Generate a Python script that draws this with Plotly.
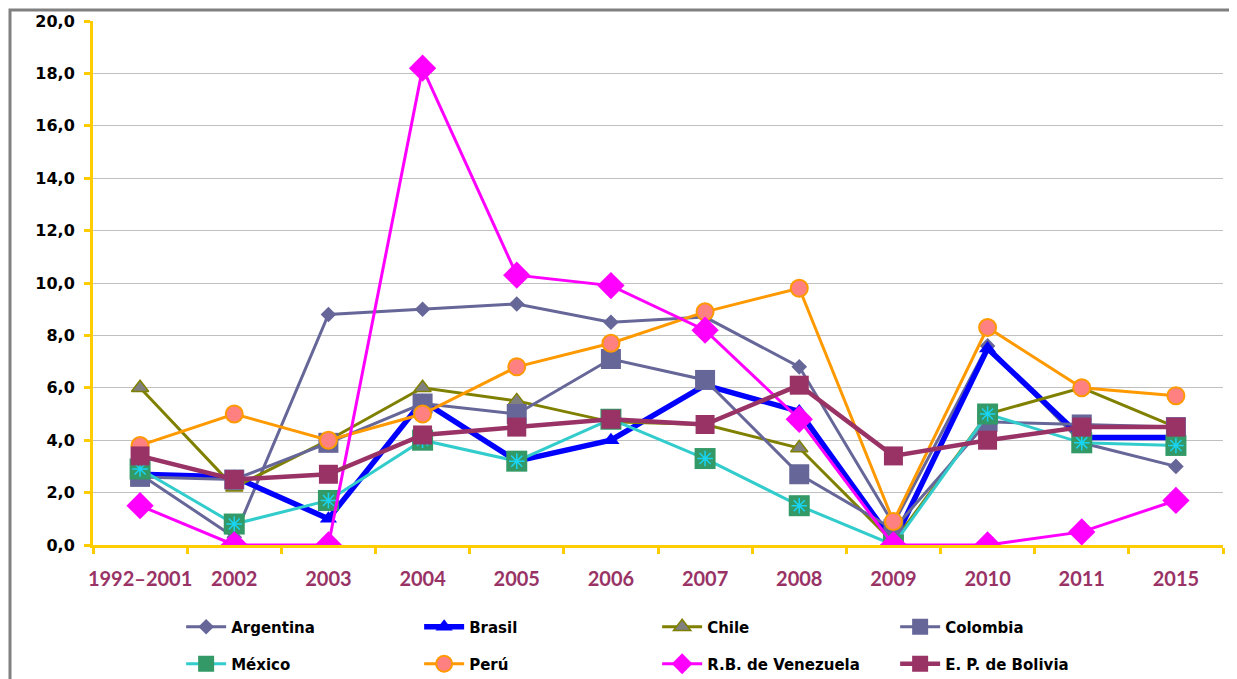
import plotly.graph_objects as go

years = ["1992–2001", "2002", "2003", "2004", "2005", "2006", "2007", "2008", "2009", "2010", "2011", "2015"]

argentina = [2.7, 0.3, 8.8, 9.0, 9.2, 8.5, 8.7, 6.8, 0.8, 7.6, 3.9, 3.0]
brasil = [2.7, 2.6, 1.0, 5.5, 3.2, 4.0, 6.1, 5.1, 0.1, 7.5, 4.1, 4.1]
chile = [6.0, 2.2, 4.0, 6.0, 5.5, 4.7, 4.6, 3.7, 0.1, 5.0, 6.0, 4.5]
colombia = [2.6, 2.5, 3.9, 5.4, 5.0, 7.1, 6.3, 2.7, 0.6, 4.7, 4.6, 4.5]
mexico = [2.9, 0.8, 1.7, 4.0, 3.2, 4.8, 3.3, 1.5, 0.0, 5.0, 3.9, 3.8]
peru = [3.8, 5.0, 4.0, 5.0, 6.8, 7.7, 8.9, 9.8, 0.9, 8.3, 6.0, 5.7]
venezuela = [1.5, 0.0, 0.0, 18.2, 10.3, 9.9, 8.2, 4.8, 0.0, 0.0, 0.5, 1.7]
bolivia = [3.4, 2.5, 2.7, 4.2, 4.5, 4.8, 4.6, 6.1, 3.4, 4.0, 4.5, 4.5]

YELLOW = "#FFCC00"

fig = go.Figure()


def add(name, y, color, width, symbol, size, fill=None, lcolor=None, lw=0, legend="legend"):
    fig.add_trace(go.Scatter(
        x=years, y=y, name=name, mode="lines+markers", legend=legend,
        line=dict(color=color, width=width),
        marker=dict(symbol=symbol, size=size, color=fill or color,
                    line=dict(color=lcolor or color, width=lw)),
    ))


add("Argentina", argentina, "#666699", 3, "diamond", 12)
add("Brasil", brasil, "#0000FF", 5.5, "triangle-up", 15)
add("Chile", chile, "#808000", 3, "triangle-up", 15, fill="#808080", lw=1.5)
add("Colombia", colombia, "#666699", 3, "square", 20)
add("México", mexico, "#33CCCC", 3, "square", 21, fill="#339966", legend="legend2")
# asterisk inside the Mexico markers
fig.add_trace(go.Scatter(
    x=years, y=mexico, mode="markers", showlegend=False, hoverinfo="skip",
    marker=dict(symbol="asterisk-open", size=13, line=dict(color="#33CCCC", width=1.5)),
))
add("Perú", peru, "#FF9900", 3, "circle", 17, fill="#FF8080", lcolor="#FF9900", lw=2, legend="legend2")
add("R.B. de Venezuela", venezuela, "#FF00FF", 3, "diamond", 21, legend="legend2")
add("E. P. de Bolivia", bolivia, "#993366", 4.5, "square", 19, legend="legend2")

leg = dict(orientation="h", xanchor="left", yanchor="middle", x=0.078,
           entrywidth=183, entrywidthmode="pixels", itemwidth=40,
           bgcolor="rgba(0,0,0,0)", borderwidth=0,
           font=dict(family="DejaVu Sans", size=15, color="black", weight="bold"))

# page has an 8px body margin, so plot area lands at x 93..1223, y 21..545
fig.update_layout(
    width=1237, height=679,
    margin=dict(l=85, r=22, t=13, b=142, autoexpand=False),
    paper_bgcolor="white", plot_bgcolor="white",
    separators=",.",
    showlegend=True,
    legend=dict(leg, y=(545 - 627) / 524),
    legend2=dict(leg, y=(545 - 664) / 524),
    xaxis=dict(
        type="category", range=[-0.5, 11.5], tickson="boundaries",
        showline=True, linecolor=YELLOW, linewidth=3, tickangle=0, automargin=False,
        ticks="outside", ticklen=6, tickwidth=3, tickcolor=YELLOW,
        showgrid=False, ticklabelstandoff=14,
        tickfont=dict(family="Lato", size=20, color="#993366", weight="bold"),
    ),
    yaxis=dict(
        range=[0, 20], dtick=2, tickformat=".1f", automargin=False,
        showline=True, linecolor=YELLOW, linewidth=3,
        ticks="outside", ticklen=6, tickwidth=3, tickcolor=YELLOW,
        showgrid=True, gridcolor="#C0C0C0", gridwidth=1, zeroline=False,
        ticklabelstandoff=6,
        tickfont=dict(family="DejaVu Sans", size=16, color="black", weight="bold"),
    ),
    shapes=[dict(type="rect", xref="paper", yref="paper",
                 x0=(10 - 93) / 1130, x1=(1232 - 93) / 1130,
                 y0=(545 - 700) / 524, y1=(545 - 10) / 524,
                 line=dict(color="#808080", width=3), layer="below")],
)

fig.write_html("out.html")
